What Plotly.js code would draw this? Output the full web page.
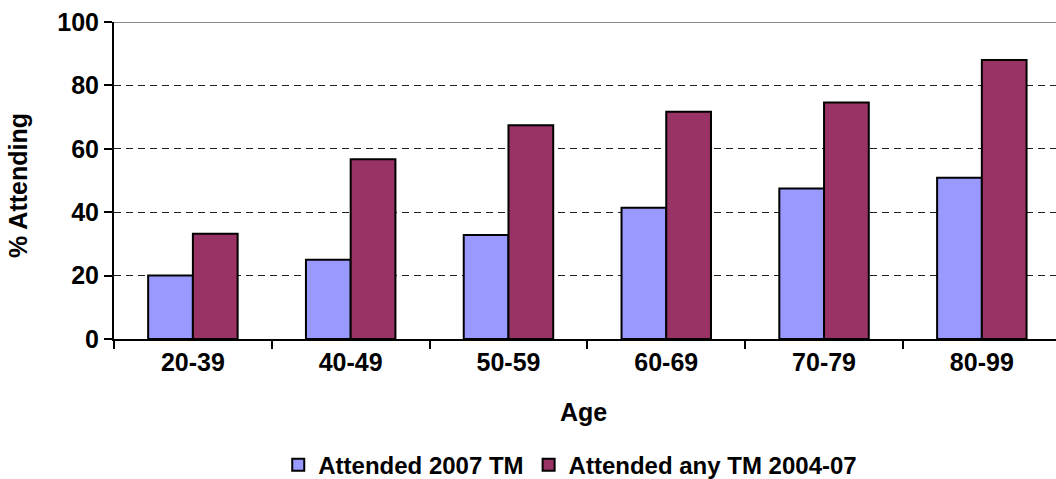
<!DOCTYPE html>
<html>
<head>
<meta charset="utf-8">
<script src="https://cdn.plot.ly/plotly-3.0.1.min.js"></script>
<style>html,body{margin:0;padding:0;background:#fff}#chart{width:1056px;height:479px}</style>
</head>
<body>
<div id="chart"></div>
<script>
const categories = ["20-39", "40-49", "50-59", "60-69", "70-79", "80-99"];
const attended2007 = [20.0, 25.0, 32.8, 41.4, 47.5, 50.9];
const attendedAny = [33.2, 56.7, 67.4, 71.7, 74.6, 88.0];
const seriesNames = ["Attended 2007 TM", "Attended any TM 2004-07"];
const yTicks = [0, 20, 40, 60, 80, 100];
const xTitle = "Age";
const yTitle = "% Attending";

const FONT = "Liberation Sans, Arial, sans-serif";
const FS = 25;
const traces = [
  {type: "bar", name: seriesNames[0], x: categories, y: attended2007,
   marker: {color: "#9999FF", line: {color: "#000", width: 2}}},
  {type: "bar", name: seriesNames[1], x: categories, y: attendedAny,
   marker: {color: "#993366", line: {color: "#000", width: 2}}}
];
const layout = {
  width: 1056, height: 479,
  margin: {l: 114, r: 0, t: 22, b: 139.5, autoexpand: false},
  paper_bgcolor: "#fff", plot_bgcolor: "#fff",
  font: {family: FONT, color: "#000", size: FS, weight: "bold"},
  barmode: "group", bargap: 0.433, bargroupgap: 0,
  showlegend: true,
  legend: {orientation: "h", xref: "container", yref: "container", x: 0.54, xanchor: "center",
           y: 0.029, yanchor: "middle", bgcolor: "rgba(0,0,0,0)",
           font: {family: FONT, size: 24, weight: "bold"}, traceorder: "normal"},
  xaxis: {type: "category", range: [-0.5, 5.47], showline: true, linecolor: "#000", linewidth: 2,
          ticks: "outside", tickson: "boundaries", ticklen: 8, tickwidth: 2, tickcolor: "#000",
          showgrid: false, zeroline: false,
          tickfont: {family: FONT, size: FS, weight: "bold"}},
  yaxis: {range: [0, 100], tickvals: yTicks, showline: true, linecolor: "#000", linewidth: 2,
          ticks: "outside", ticklen: 8, tickwidth: 2, tickcolor: "#000",
          showgrid: true, gridcolor: "#222", gridwidth: 1, griddash: "7px,5px", zeroline: false,
          tickfont: {family: FONT, size: FS, weight: "bold"}},
  annotations: [
    {text: xTitle, xref: "paper", yref: "paper", x: 0.498, y: -0.2315, xanchor: "center", yanchor: "middle",
     showarrow: false, font: {family: FONT, size: FS, weight: "bold"}},
    {text: yTitle, xref: "paper", yref: "paper", x: -0.1019, y: 0.483, xanchor: "center", yanchor: "middle",
     textangle: -90, showarrow: false, font: {family: FONT, size: FS, weight: "bold"}}
  ],
  shapes: [{type: "line", xref: "paper", yref: "y", x0: 0, x1: 1, y0: 100, y1: 100,
            line: {color: "#888", width: 2}}]
};
Plotly.newPlot("chart", traces, layout, {displayModeBar: false, staticPlot: true});
</script>
</body>
</html>
